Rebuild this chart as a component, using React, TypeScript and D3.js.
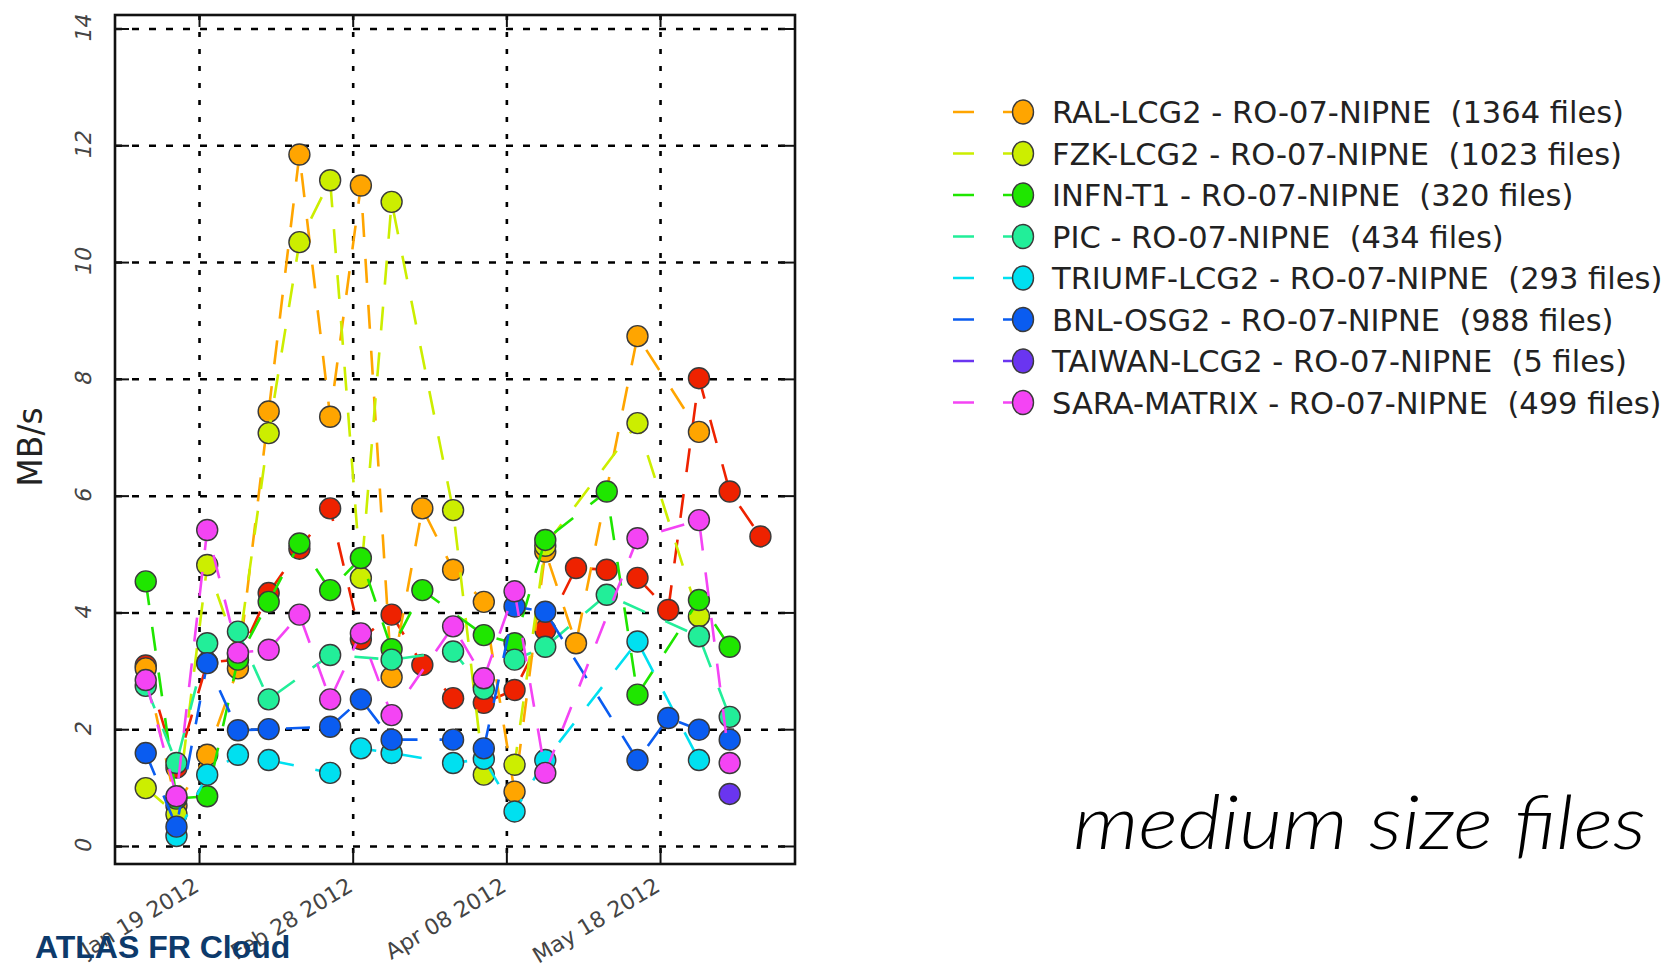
import React from "react";
import * as d3 from "d3";

// ---- data ----
const dates = [
  "2012-01-05", "2012-01-13", "2012-01-21", "2012-01-29", "2012-02-06", "2012-02-14",
  "2012-02-22", "2012-03-01", "2012-03-09", "2012-03-17", "2012-03-25", "2012-04-02",
  "2012-04-10", "2012-04-18", "2012-04-26", "2012-05-04", "2012-05-12", "2012-05-20",
  "2012-05-28", "2012-06-05", "2012-06-13",
];
const xTickDates = ["2012-01-19", "2012-02-28", "2012-04-08", "2012-05-18"];
const yTicks = [0, 2, 4, 6, 8, 10, 12, 14];

const N = null;
const redValues = [3.1, 1.35, 3.15, 3.2, 4.34, 5.1, 5.79, 3.55, 3.97, 3.11, 2.54, 2.46, 2.68, 3.71, 4.77, 4.74, 4.6, 4.05, 8.02, 6.08, 5.31];
const ralValues = [3.05, 0.7, 1.57, 3.05, 7.45, 11.85, 7.36, 11.32, 2.9, 5.79, 4.74, 4.19, 0.94, 5.05, 3.48, N, 8.74, N, 7.1, N, N];
const fzkValues = [1.0, 0.55, 4.82, 3.3, 7.08, 10.35, 11.41, 4.6, 11.04, N, 5.76, 1.23, 1.4, 5.15, N, N, 7.25, N, 3.94, N, N];
const infnValues = [4.54, 0.82, 0.86, 3.2, 4.19, 5.19, 4.39, 4.94, 3.38, 4.39, N, 3.62, 3.48, 5.25, N, 6.08, 2.6, N, 4.22, 3.42, N];
const picValues = [2.75, 1.43, 3.48, 3.68, 2.52, N, 3.28, N, 3.2, N, 3.34, 2.7, 3.2, 3.42, N, 4.31, N, N, 3.6, 2.22, N];
const triumfValues = [N, 0.18, 1.23, 1.57, 1.48, N, 1.26, 1.68, 1.6, N, 1.43, 1.5, 0.6, 1.48, N, N, 3.51, N, 1.48, N, N];
const bnlValues = [1.6, 0.34, 3.14, 1.99, 2.01, N, 2.05, 2.52, 1.83, N, 1.83, 1.68, 4.11, 4.02, N, N, 1.48, 2.2, 2.0, 1.83, N];
const taiwanValues = [N, N, N, N, N, N, N, N, N, N, N, N, N, N, N, N, N, N, N, 0.9, N];
const saraValues = [2.85, 0.86, 5.42, 3.32, 3.37, 3.97, 2.52, 3.65, 2.25, N, 3.77, 2.88, 4.37, 1.26, N, N, 5.28, N, 5.59, 1.43, N];

const legendLabels = [
  "RAL-LCG2 - RO-07-NIPNE  (1364 files)",
  "FZK-LCG2 - RO-07-NIPNE  (1023 files)",
  "INFN-T1 - RO-07-NIPNE  (320 files)",
  "PIC - RO-07-NIPNE  (434 files)",
  "TRIUMF-LCG2 - RO-07-NIPNE  (293 files)",
  "BNL-OSG2 - RO-07-NIPNE  (988 files)",
  "TAIWAN-LCG2 - RO-07-NIPNE  (5 files)",
  "SARA-MATRIX - RO-07-NIPNE  (499 files)",
];
const legendValues = [ralValues, fzkValues, infnValues, picValues, triumfValues, bnlValues, taiwanValues, saraValues];
const legendColors = ["#ffa500", "#ccee00", "#1fe600", "#22ee99", "#00e0f0", "#0a5cf0", "#6a35f0", "#f444f4"];
const redColor = "#ee2200";

// ---- layout ----
const W = 1674, H = 969;
const L = 115, R = 795, T = 15, B = 864;
const parse = d3.timeParse("%Y-%m-%d");
const fmt = d3.timeFormat("%b %d %Y");

export default function App() {
  const x = d3.scaleTime().domain([parse("2011-12-28")!, parse("2012-06-22")!]).range([L, R]);
  const y = d3.scaleLinear().domain([-0.3, 14.24]).range([B, T]);
  const line = d3.line<[Date, number]>().x((d) => x(d[0])).y((d) => y(d[1]));

  const series = [
    { color: redColor, values: redValues },
    ...legendValues.map((v, i) => ({ color: legendColors[i], values: v })),
  ].map((s) => ({
    color: s.color,
    pts: dates
      .map((d, i) => [parse(d)!, s.values[i]] as [Date, number | null])
      .filter((p) => p[1] !== null) as [Date, number][],
  }));

  const xt = xTickDates.map((d) => parse(d)!);

  return (
    <svg width={W} height={H} style={{ position: "absolute", left: 0, top: 0, background: "#fff" }}>
      <rect x={0} y={0} width={W} height={H} fill="#fff" />
      {/* grid */}
      {yTicks.map((t) => (
        <line key={"gy" + t} x1={L} x2={R} y1={y(t)} y2={y(t)} stroke="#000" strokeWidth={2.5} strokeDasharray="7,10" />
      ))}
      {xt.map((d, i) => (
        <line key={"gx" + i} x1={x(d)} x2={x(d)} y1={T} y2={B} stroke="#000" strokeWidth={2.6} strokeDasharray="5,12" />
      ))}
      {/* ticks */}
      {yTicks.map((t) => (
        <g key={"ty" + t}>
          <line x1={L} x2={L + 14} y1={y(t)} y2={y(t)} stroke="#111" strokeWidth={2} />
          <line x1={R - 14} x2={R} y1={y(t)} y2={y(t)} stroke="#111" strokeWidth={2} />
        </g>
      ))}
      {xt.map((d, i) => (
        <g key={"tx" + i}>
          <line x1={x(d)} x2={x(d)} y1={B - 14} y2={B} stroke="#111" strokeWidth={2} />
          <line x1={x(d)} x2={x(d)} y1={T} y2={T + 12} stroke="#111" strokeWidth={2} />
        </g>
      ))}
      {/* series */}
      {series.map((s, si) => (
        <g key={"s" + si}>
          {s.pts.length > 1 && (
            <path d={line(s.pts) || ""} fill="none" stroke={s.color} strokeWidth={2.6} strokeDasharray="24,22" />
          )}
          {s.pts.map((p, j) => (
            <circle key={j} cx={x(p[0])} cy={y(p[1])} r={10.5} fill={s.color} stroke="#3a3a3a" strokeWidth={1.4} />
          ))}
        </g>
      ))}
      {/* frame */}
      <rect x={L} y={T} width={R - L} height={B - T} fill="none" stroke="#111" strokeWidth={2.6} />
      {/* y tick labels */}
      {yTicks.map((t) => (
        <text
          key={"yl" + t}
          transform={`translate(91,${y(t)}) rotate(-90) skewX(-12)`}
          textAnchor="middle"
          fontFamily="DejaVu Sans"
          fontSize={22}
          fill="#444"
        >
          {t}
        </text>
      ))}
      {/* x tick labels */}
      {xt.map((d, i) => (
        <text
          key={"xl" + i}
          transform={`translate(${x(d) + 1},890) rotate(-31)`}
          textAnchor="end"
          fontFamily="DejaVu Sans"
          fontSize={22}
          fill="#444"
        >
          {fmt(d)}
        </text>
      ))}
      {/* y label */}
      <text transform="translate(42,447) rotate(-90)" textAnchor="middle" fontFamily="DejaVu Sans" fontSize={33} fill="#222">
        MB/s
      </text>
      {/* legend */}
      {legendLabels.map((lab, i) => {
        const cy = 112 + i * 41.5;
        return (
          <g key={"lg" + i}>
            <line x1={953} x2={1023} y1={cy} y2={cy} stroke={legendColors[i]} strokeWidth={2.6} strokeDasharray="21,29" />
            <ellipse cx={1023} cy={cy} rx={10.5} ry={12} fill={legendColors[i]} stroke="#3a3a3a" strokeWidth={1.4} />
            <text
              x={1052}
              y={cy + 11}
              fontFamily="DejaVu Sans"
              fontSize={30.5}
              fill="#222"
              style={{ whiteSpace: "pre" }}
            >
              {lab}
            </text>
          </g>
        );
      })}
      {/* annotations */}
      <text x={1073} y={849} fontFamily="Lato, Roboto, sans-serif" fontStyle="italic" fontWeight={300} fontSize={74} textLength={573} lengthAdjust="spacingAndGlyphs" fill="#000">
        medium size files
      </text>
      <text x={35} y={958} fontFamily="'Liberation Sans', Arial, sans-serif" fontWeight="bold" fontSize={32} fill="#0d3a6b">
        ATLAS FR Cloud
      </text>
    </svg>
  );
}
